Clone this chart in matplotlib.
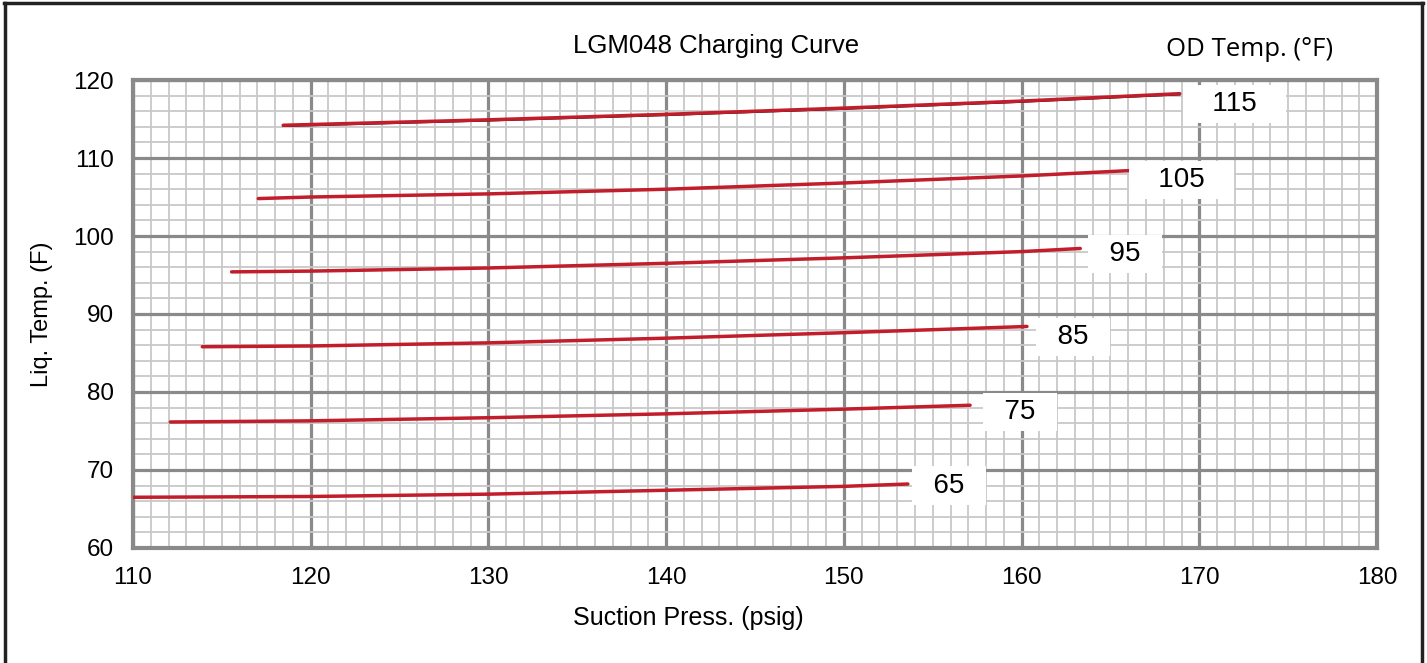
import numpy as np
import matplotlib.pyplot as plt
from matplotlib.lines import Line2D
from matplotlib.ticker import MultipleLocator
import matplotlib.transforms as mtransforms

plt.rcParams['font.family'] = ['Liberation Sans', 'DejaVu Sans']

# OD temperature curves: suction pressure (psig) vs liquid temperature (F)
p65 = [110, 120, 130, 140, 150, 153.6]
t65 = [66.5, 66.6, 66.9, 67.4, 67.9, 68.2]
p75 = [112.1, 120, 130, 140, 150, 157.1]
t75 = [76.15, 76.3, 76.7, 77.2, 77.8, 78.3]
p85 = [113.9, 120, 130, 140, 150, 160.3]
t85 = [85.8, 85.9, 86.3, 86.9, 87.6, 88.4]
p95 = [115.55, 120, 130, 140, 150, 160, 163.3]
t95 = [95.4, 95.5, 95.9, 96.5, 97.2, 98.0, 98.4]
p105 = [117.05, 120, 130, 140, 150, 160, 166.2]
t105 = [104.8, 105.0, 105.4, 106.0, 106.8, 107.7, 108.4]
p115 = [118.45, 130, 140, 150, 160, 168.9]
t115 = [114.2, 114.9, 115.6, 116.4, 117.3, 118.25]

curves = [(p65, t65), (p75, t75), (p85, t85), (p95, t95), (p105, t105), (p115, t115)]

od_labels = ['65', '75', '85', '95', '105', '115']
label_x = [155.9, 159.9, 162.9, 165.8, 169.0, 172.0]
label_y = [68.0, 77.4, 87.05, 97.7, 107.2, 116.9]

fig = plt.figure(figsize=(14.27, 6.63), dpi=100)
ax = fig.add_axes([0.0932, 0.1735, 0.8718, 0.7058])

ax.set_xlim(110, 180)
ax.set_ylim(60, 120)
ax.xaxis.set_major_locator(MultipleLocator(10))
ax.xaxis.set_minor_locator(MultipleLocator(1))
ax.yaxis.set_major_locator(MultipleLocator(10))
ax.yaxis.set_minor_locator(MultipleLocator(2))

ax.grid(which='minor', color='#c8c8c8', lw=1.3, zorder=0)
ax.grid(which='major', color='#8a8a8a', lw=2.3, zorder=0)
ax.set_axisbelow(True)
for s in ax.spines.values():
    s.set_color('#8a8a8a')
    s.set_linewidth(3)

ax.tick_params(which='both', length=0, labelsize=17.5)
ax.tick_params(axis='x', pad=14)
ax.tick_params(axis='y', pad=14)

red = '#c21d2b'
for p, t in curves:
    ax.plot(p, t, color=red, lw=2.5, solid_capstyle='round', zorder=3)

# the 115 curve has a thin black trace underneath
shift = mtransforms.offset_copy(ax.transData, fig=fig, x=0, y=-1, units='dots')
ax.plot(p115, t115, color='black', lw=1.1, zorder=2.9, transform=shift)

# white boxes behind the OD temperature labels
for lab, x, y in zip(od_labels, label_x, label_y):
    sp = '   ' if len(lab) == 3 else '  '
    ax.text(x, y, sp + lab + sp, fontsize=20, ha='center', va='center', zorder=4,
            bbox=dict(boxstyle='square,pad=0.22', fc='white', ec='none'))

fig.text(716 / 1427, 1 - 46 / 663, 'LGM048 Charging Curve', fontsize=18.5,
         ha='center', va='center')
fig.text(1250 / 1427, 1 - 49 / 663, 'OD Temp. (°F)', fontsize=18.5, ha='center',
         va='center', family=['Open Sans', 'DejaVu Sans'])
ax.set_xlabel('Suction Press. (psig)', fontsize=18, labelpad=12)
ax.xaxis.label.set_x((688 - 133) / 1244)
ax.set_ylabel('Liq. Temp. (F)', fontsize=17, labelpad=14)

# outer frame of the picture (bottom edge is cut off)
W, H = 1427, 663
for xs, ys in [([5, 5], [3, H]), ([4, 1423], [3, 3]), ([1422, 1422], [3, H])]:
    fig.add_artist(Line2D([x / W for x in xs], [1 - y / H for y in ys],
                          color='#222222', lw=2.5, transform=fig.transFigure))

fig.savefig('out.png', dpi=100)
